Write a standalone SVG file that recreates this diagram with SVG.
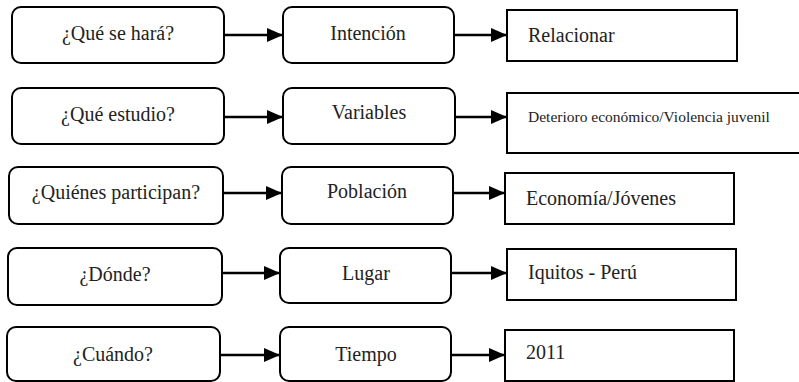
<svg xmlns="http://www.w3.org/2000/svg" width="799" height="382" viewBox="0 0 799 382">
<style>
  .rb { fill: #fff; stroke: #000; stroke-width: 2; }
  .sb { fill: #fff; stroke: #000; stroke-width: 2; }
  .t { font-family: "Liberation Serif", "Times New Roman", serif; font-size: 20px; fill: #222; }
  .c { text-anchor: middle; }
  .s { font-size: 15.5px; }
  .cn { stroke: #000; stroke-width: 2.5; fill: none; marker-end: url(#ah); }
</style>
<defs>
  <marker id="ah" markerUnits="userSpaceOnUse" markerWidth="17" markerHeight="14" refX="16" refY="7" orient="auto">
    <path d="M0,0 L16,7 L0,14 z" fill="#000"/>
  </marker>
</defs>
<rect width="799" height="382" fill="#fff"/>
<g id="connectors">
  <line class="cn" x1="224" y1="35" x2="283" y2="35"/>
  <line class="cn" x1="454" y1="35" x2="507" y2="35"/>
  <line class="cn" x1="224" y1="117" x2="283" y2="117"/>
  <line class="cn" x1="455" y1="117" x2="507" y2="117"/>
  <line class="cn" x1="223" y1="193" x2="282" y2="193"/>
  <line class="cn" x1="453" y1="193" x2="505" y2="193"/>
  <line class="cn" x1="222" y1="273" x2="280" y2="273"/>
  <line class="cn" x1="451" y1="273" x2="507" y2="273"/>
  <line class="cn" x1="220" y1="355" x2="280" y2="355"/>
  <line class="cn" x1="451" y1="355" x2="505" y2="355"/>
</g>
<g id="q1"><rect class="rb" x="12" y="7" width="212" height="56" rx="9"/><text class="t c" x="118" y="40">¿Qué se hará?</text></g>
<g id="a1"><rect class="rb" x="283" y="7" width="171" height="56" rx="9"/><text class="t c" x="368" y="40">Intención</text></g>
<g id="r1"><rect class="sb" x="507" y="10" width="230" height="51"/><text class="t" x="528" y="42">Relacionar</text></g>

<g id="q2"><rect class="rb" x="12" y="88" width="212" height="56" rx="9"/><text class="t c" x="118" y="121">¿Qué estudio?</text></g>
<g id="a2"><rect class="rb" x="283" y="88" width="172" height="56" rx="9"/><text class="t c" x="369" y="119">Variables</text></g>
<g id="r2"><rect class="sb" x="507" y="93" width="296" height="60"/><text class="t s" x="528" y="122">Deterioro económico/Violencia juvenil</text></g>

<g id="q3"><rect class="rb" x="9" y="167" width="214" height="57" rx="9"/><text class="t c" x="116" y="199">¿Quiénes participan?</text></g>
<g id="a3"><rect class="rb" x="282" y="167" width="171" height="57" rx="9"/><text class="t c" x="367" y="198">Población</text></g>
<g id="r3"><rect class="sb" x="505" y="173" width="229" height="51"/><text class="t" x="526" y="205">Economía/Jóvenes</text></g>

<g id="q4"><rect class="rb" x="8" y="248" width="214" height="57" rx="9"/><text class="t c" x="115" y="281">¿Dónde?</text></g>
<g id="a4"><rect class="rb" x="280" y="248" width="171" height="55" rx="9"/><text class="t c" x="366" y="280">Lugar</text></g>
<g id="r4"><rect class="sb" x="507" y="249" width="229" height="51"/><text class="t" x="528" y="279">Iquitos - Perú</text></g>

<g id="q5"><rect class="rb" x="7" y="327" width="213" height="54" rx="9"/><text class="t c" x="113" y="361">¿Cuándo?</text></g>
<g id="a5"><rect class="rb" x="280" y="327" width="171" height="54" rx="9"/><text class="t c" x="366" y="361">Tiempo</text></g>
<g id="r5"><rect class="sb" x="505" y="330" width="229" height="51"/><text class="t" x="526" y="359">2011</text></g>
</svg>
